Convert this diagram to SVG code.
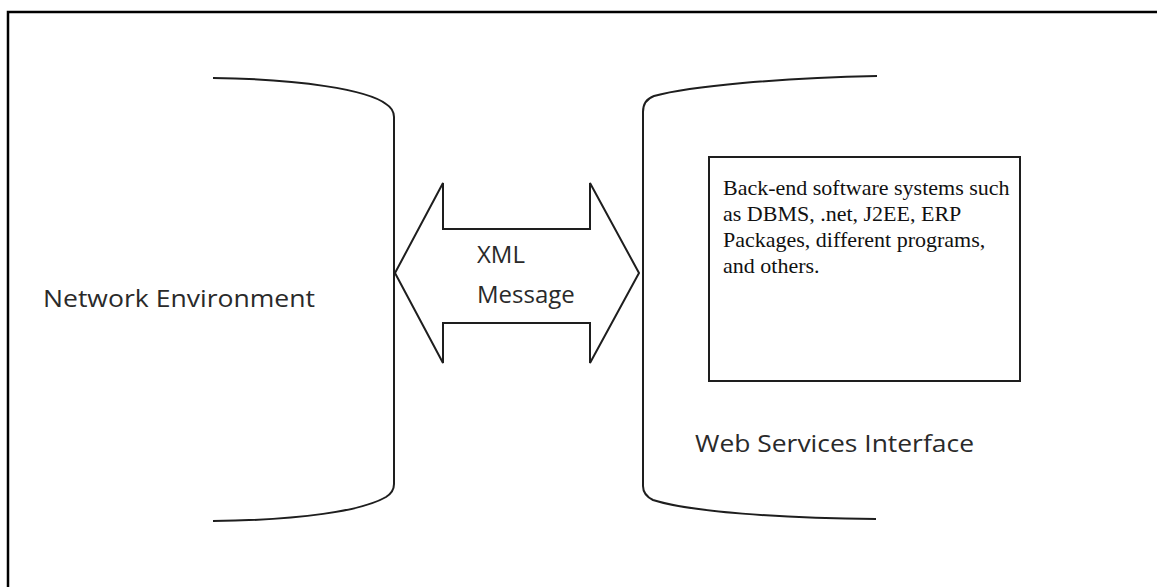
<svg xmlns="http://www.w3.org/2000/svg" width="1157" height="587" viewBox="0 0 1157 587">
<style>
.frame{fill:none;stroke:#000;stroke-width:2.5}
.shape{fill:none;stroke:#1e1e1e;stroke-width:2}
.sans{font-family:"Open Sans","Liberation Sans",sans-serif;font-size:24px;fill:#2a2a2a}
.serif{font-family:"Liberation Serif","Times New Roman",serif;font-size:22px;fill:#111}
</style>
<rect x="0" y="0" width="1157" height="587" fill="#fff"/>
<path class="frame" d="M8,587 L8,12 L1157,12"/>
<g id="network-environment">
<path class="shape" d="M213,78 C300,79 368,90 386,104 Q394,109 394,117 L394,484 Q394,492 386,497 C362,511 300,520 213,521"/>
<text class="sans" x="43" y="307" textLength="272" lengthAdjust="spacingAndGlyphs">Network Environment</text>
</g>
<g id="web-services-interface">
<path class="shape" d="M877,76 C780,78 690,86 654,96 Q643,100 643,112 L643,486 Q643,495 653,500 C690,512 780,518 876,519"/>
<text class="sans" x="695" y="452" textLength="279" lengthAdjust="spacingAndGlyphs">Web Services Interface</text>
</g>
<g id="back-end-systems">
<rect class="shape" x="709" y="157" width="311" height="224" fill="#fff"/>
<text class="serif" x="723" y="195">Back-end software systems such</text>
<text class="serif" x="723" y="221">as DBMS, .net, J2EE, ERP</text>
<text class="serif" x="723" y="247">Packages, different programs,</text>
<text class="serif" x="723" y="273">and others.</text>
</g>
<g id="connectors">
<g id="xml-message">
<polygon class="shape" points="395,273 443,183 443,229 590,229 590,183 639,273 590,363 590,323 443,323 443,363"/>
<text class="sans" x="477" y="263">XML</text>
<text class="sans" x="477" y="303">Message</text>
</g>
</g>
</svg>
